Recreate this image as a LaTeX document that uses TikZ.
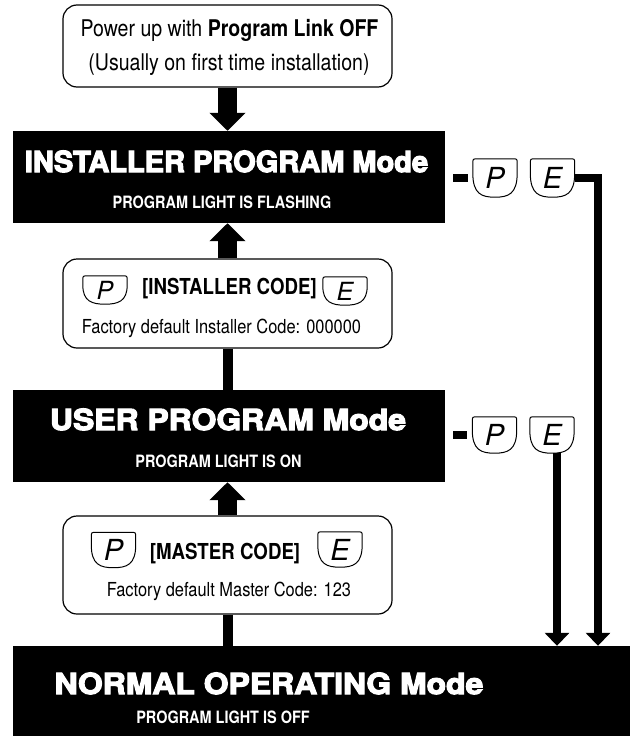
\documentclass[tikz,border=0pt]{standalone}
\usepackage{fontspec}
\setmainfont{TeX Gyre Heros}
\newfontfamily\condfont[FakeStretch=0.85]{TeX Gyre Heros}
\newfontfamily\heavyfont[FakeBold=4]{TeX Gyre Heros}
\newfontfamily\wideheavyfont[FakeBold=4, FakeStretch=1.1]{TeX Gyre Heros}
\usetikzlibrary{arrows.meta,calc}

\begin{document}
\begin{tikzpicture}[x=1pt, y=-1pt]

\tikzstyle{modebox}=[fill=black, draw=none, inner sep=0, minimum width=432pt, minimum height=92pt]
\tikzstyle{stepbox}=[draw, line width=1.2pt, rounded corners=14pt, minimum width=329pt, inner sep=0]
\tikzstyle{keycap}=[inner sep=0, minimum width=44pt, minimum height=38pt, font=\itshape\fontsize{29}{29}\selectfont]
\tikzstyle{smallkey}=[keycap, minimum height=28pt, font=\itshape\fontsize{25}{25}\selectfont]
\tikzstyle{title}=[text=white, inner sep=0, anchor=base, font=\heavyfont\bfseries\fontsize{29}{29}\selectfont]
\tikzstyle{widetitle}=[title, font=\wideheavyfont\bfseries\fontsize{29}{29}\selectfont]
\tikzstyle{subtitle}=[text=white, inner sep=0, anchor=base, font=\condfont\bfseries\fontsize{17}{17}\selectfont]
\tikzstyle{txt}=[inner sep=0, anchor=base, font=\condfont\fontsize{23}{23}\selectfont]
\tikzstyle{note}=[inner sep=0, anchor=base, font=\condfont\fontsize{19.3}{19.3}\selectfont]
\tikzstyle{bigarrow}=[line width=19pt, -{Triangle[width=35pt,length=18pt]}]
\tikzstyle{link}=[line width=10pt]
\tikzstyle{keyline}=[line width=8pt]
\tikzstyle{keyarrow}=[line width=8pt, -{Triangle[width=24pt,length=13pt]}]

\useasboundingbox (0,0) rectangle (630,736);

% --- power up box ---
\node[stepbox, minimum height=82pt] (top) at (227.5,46) {};
\node[txt] (top1) at (229.5,36) {Power up with \textbf{Program Link OFF}};
\node[txt] (top2) at (229,70) {(Usually on first time installation)};

% --- installer program mode ---
\node[modebox] (inst) at (229,177) {};
\node[title] (instt) at (226.5,172) {INSTALLER PROGRAM Mode};
\node[subtitle] (insts) at (222,208) {PROGRAM LIGHT IS FLASHING};

% --- installer code entry ---
\node[stepbox, minimum height=89pt] (icode) at (227.5,303.5) {};
\node[txt, font=\condfont\bfseries\fontsize{22}{22}\selectfont] (icode1) at (229.5,294) {[INSTALLER CODE]};
\node[note] (icode2) at (221.5,333) {Factory default Installer Code: 000000};
\node[smallkey] (cp) at (105,290) {P};
\node[smallkey] (ce) at (345,291) {E};

% --- user program mode ---
\node[modebox] (user) at (229,436) {};
\node[widetitle] (usert) at (228,430) {USER PROGRAM Mode};
\node[subtitle] (users) at (218.5,467) {PROGRAM LIGHT IS ON};

% --- master code entry ---
\node[stepbox, minimum height=98pt] (mcode) at (227.5,565) {};
\node[txt, font=\condfont\bfseries\fontsize{22}{22}\selectfont] (mcode1) at (225,559) {[MASTER CODE]};
\node[note] (mcode2) at (229,596) {Factory default Master Code: 123};
\node[keycap, minimum height=35pt] (mp) at (113.5,550) {P};
\node[keycap, minimum height=35pt] (me) at (340,549.5) {E};

% --- normal operating mode ---
\node[modebox, minimum width=617pt, minimum height=90pt] (norm) at (321.5,691) {};
\node[widetitle] (normt) at (269,694) {NORMAL OPERATING Mode};
\node[subtitle] (norms) at (223,723) {PROGRAM LIGHT IS OFF};

% --- exit keys ---
\node[keycap] (ip) at (495,178) {P};
\node[keycap] (ie) at (552.5,178) {E};
\node[keycap, minimum height=36pt] (up) at (494.5,435) {P};
\node[keycap, minimum height=36pt] (ue) at (552,435) {E};

\foreach \k in {ip,ie,up,ue,cp,ce,mp,me}
  \draw[line width=1pt] ([yshift=-5pt]\k.north west) .. controls (\k.north west) .. ([xshift=5pt]\k.north west)
    -- ([xshift=-5pt]\k.north east) .. controls (\k.north east) .. ([yshift=-5pt]\k.north east)
    -- ([yshift=5pt]\k.east) .. controls ([yshift=3pt]\k.south east) and ([xshift=-9pt]\k.south east) .. (\k.south)
    .. controls ([xshift=9pt]\k.south west) and ([yshift=3pt]\k.south west) .. ([yshift=5pt]\k.west) -- cycle;

% --- main flow ---
\draw[bigarrow] (top.south) -- (top.south |- inst.north);
\draw[bigarrow] (icode.north) -- (icode.north |- inst.south);
\draw[link] (icode.south) -- (icode.south |- user.north);
\draw[bigarrow] (mcode.north) -- (mcode.north |- user.south);
\draw[link] (mcode.south) -- (mcode.south |- norm.north);

% --- exit paths ---
\coordinate (idrop) at (598,178);
\draw[keyline, shorten <=8pt, shorten >=5pt] (inst.east |- ip) -- (ip.west);
\draw[keyarrow] (ie.east) -| (idrop |- norm.north);
\draw[keyline, shorten <=8pt, shorten >=5pt] (user.east |- up) -- (up.west);
\draw[keyarrow] ([xshift=5pt]ue.south) -- ([xshift=5pt]ue.south |- norm.north);

\end{tikzpicture}
\end{document}
